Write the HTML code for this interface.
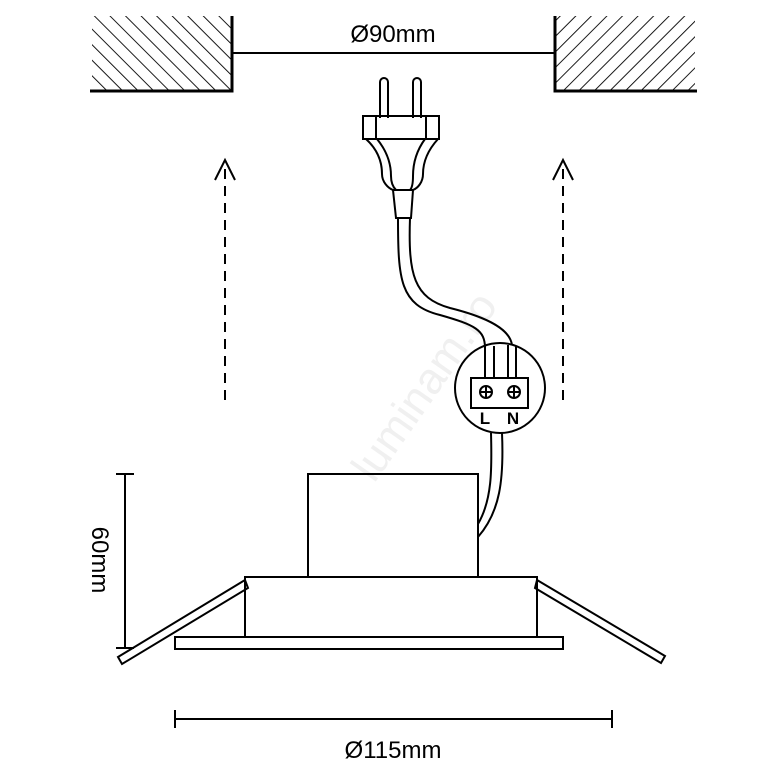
<!DOCTYPE html>
<html><head><style>body{margin:0;background:#fff}svg{display:block}</style></head><body>
<svg width="783" height="783" viewBox="0 0 783 783" xmlns="http://www.w3.org/2000/svg" font-family="Liberation Sans, sans-serif">
<defs>
<pattern id="hl" width="11" height="11" patternUnits="userSpaceOnUse" patternTransform="rotate(-45)"><line x1="0" y1="0" x2="0" y2="11" stroke="#000" stroke-width="1.8"/></pattern>
<pattern id="hr" width="11" height="11" patternUnits="userSpaceOnUse" patternTransform="rotate(45)"><line x1="0" y1="0" x2="0" y2="11" stroke="#000" stroke-width="1.8"/></pattern>
</defs>
<text x="320" y="460" font-size="44" fill="#f0f0f0" transform="rotate(-55 370 420)">luminam.ro</text>
<rect x="92" y="16" width="140" height="75" fill="url(#hl)"/>
<rect x="555" y="16" width="140" height="75" fill="url(#hr)"/>
<g stroke="#000" fill="none" stroke-width="2">
<path d="M90 91H232V16M555 16V91H697" stroke-width="3"/>
<line x1="232" y1="53" x2="555" y2="53"/>
<path d="M380 118V82a4 4 0 0 1 8 0V118M413 118V82a4 4 0 0 1 8 0V118"/>
<rect x="363" y="116" width="76" height="23"/>
<line x1="376" y1="116" x2="376" y2="139"/><line x1="426" y1="116" x2="426" y2="139"/>
<path d="M366 139C378 150 382 162 382 174C382 182 388 188 393 190H413C418 188 423 182 423 174C423 162 428 150 438 139"/>
<path d="M377 139C386 150 391 162 391 176C391 184 394 188 396 190M425 139C417 150 413 162 413 176C413 184 412 188 410 190"/>
<path d="M393 190L396 218H411L413 190"/>
<path d="M398 218C398 280 400 305 440 315C475 325 485 330 485 348M410 218C408 275 414 298 450 308C490 318 510 330 512 345"/>
<circle cx="500" cy="388" r="45"/>
<path d="M485 346V378M494 346V378M508 345V378M516 346V378"/>
<rect x="471" y="378" width="57" height="30"/>
<circle cx="486" cy="392" r="6"/><path d="M480 392h12M486 386v12"/>
<circle cx="514" cy="392" r="6"/><path d="M508 392h12M514 386v12"/>
<path d="M491 433C492 470 492 500 478 524M502 433C504 480 500 512 478 537"/>
<rect x="308" y="474" width="170" height="103"/>
<rect x="245" y="577" width="292" height="60"/>
<rect x="175" y="637" width="388" height="12"/>
<path d="M245 580L118 657L122 664L248 588Z"/>
<path d="M537 580L665 656L661 663L535 588Z"/>
<path d="M125 474V648M116 474H134M116 648H134"/>
<path d="M175 719H612M175 710V728M612 710V728"/>
<path d="M225 400V165M563 400V165" stroke-dasharray="10 7"/>
<path d="M215 180L225 160L235 180M553 180L563 160L573 180"/>
</g>
<text x="485" y="424" font-size="17" font-weight="bold" text-anchor="middle">L</text>
<text x="513" y="424" font-size="17" font-weight="bold" text-anchor="middle">N</text>
<text x="393" y="42" font-size="24" text-anchor="middle">Ø90mm</text>
<text x="393" y="758" font-size="24" text-anchor="middle">Ø115mm</text>
<text x="0" y="0" font-size="24" text-anchor="middle" transform="translate(92 560) rotate(90)">60mm</text>
</svg>
</body></html>
